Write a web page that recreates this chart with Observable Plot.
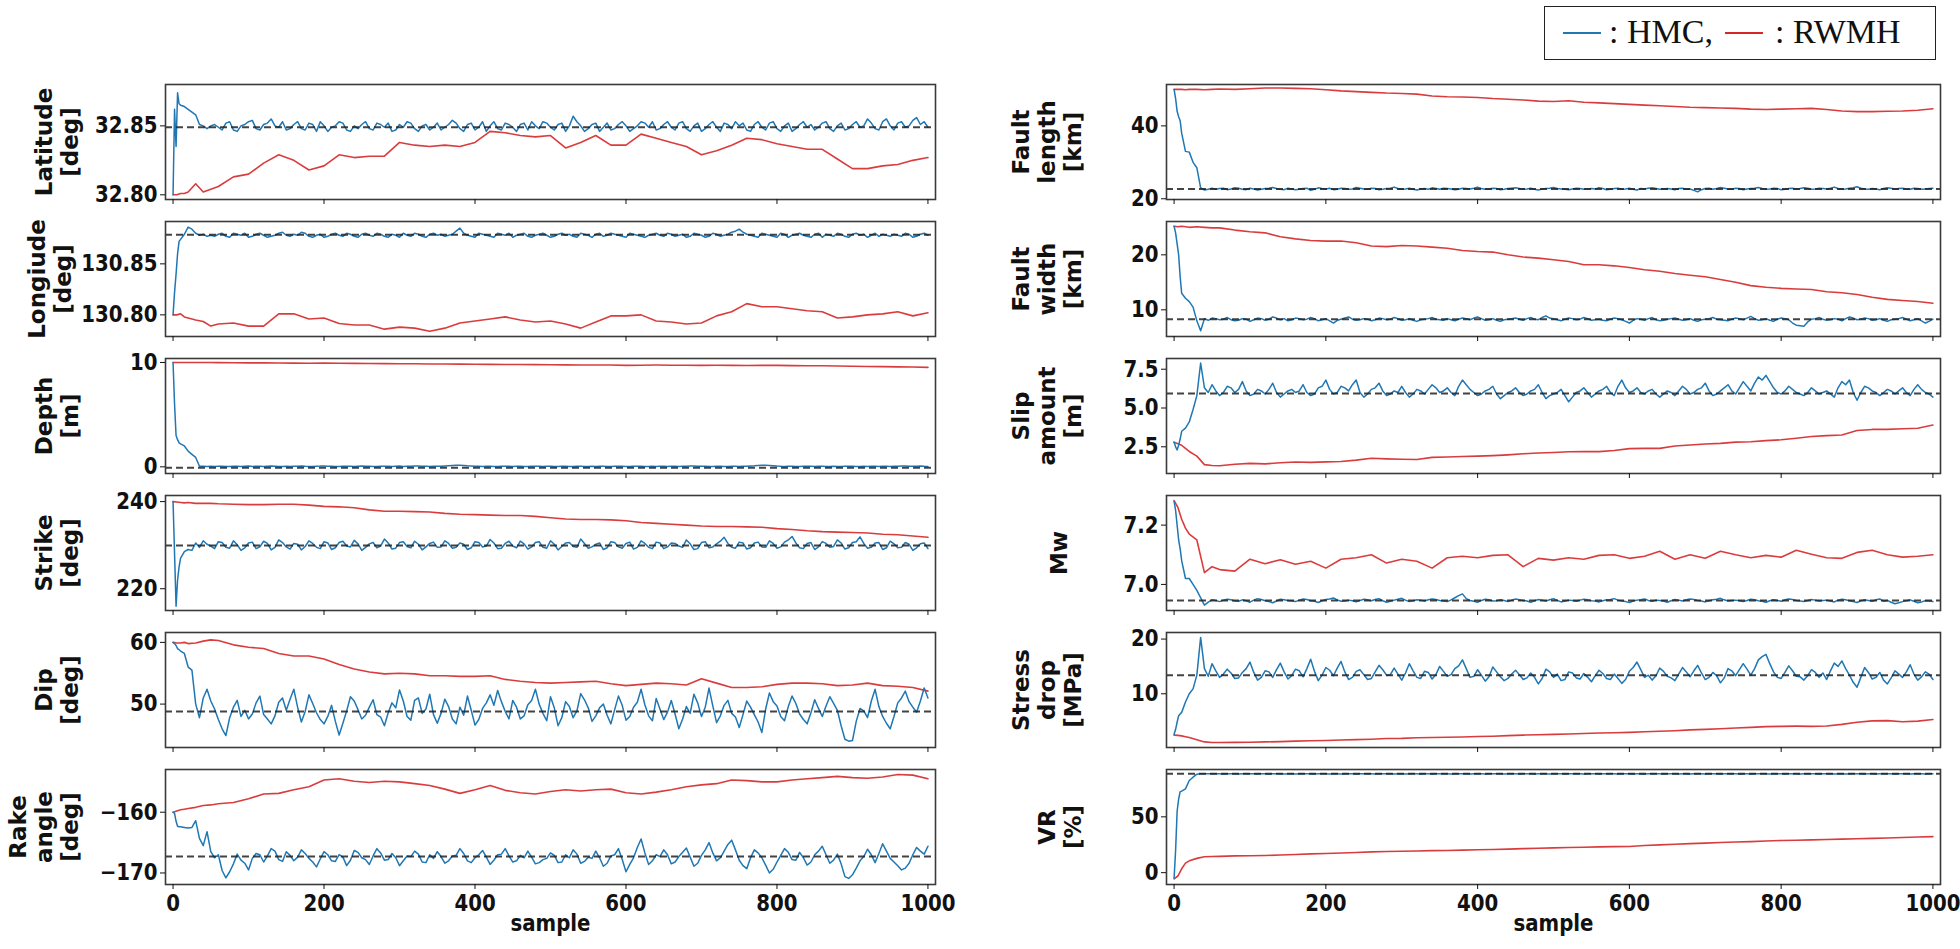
<!DOCTYPE html>
<html>
<head>
<meta charset="utf-8">
<script src="https://cdn.jsdelivr.net/npm/d3@7"></script>
<script src="https://cdn.jsdelivr.net/npm/@observablehq/plot@0.6"></script>
<style>
  html, body { margin: 0; padding: 0; background: #fff; }
  #root { position: relative; width: 1960px; height: 949px; background: #fff; overflow: hidden; }
  .panel { position: absolute; }
  #legend { position: absolute; left: 1544px; top: 6px; width: 392px; height: 54px; border: 1.6px solid #222; box-sizing: border-box; font-family: "Liberation Serif", "Times New Roman", serif; font-size: 34px; color: #111; }
  #legend .ln { position: absolute; top: 25px; height: 2px; width: 38px; }
  #legend .tx { position: absolute; top: 5px; white-space: nowrap; line-height: 40px; }
</style>
</head>
<body>
<div id="root">
  <div id="legend">
    <div class="ln" style="left:18px;background:#1f77b4"></div>
    <div class="tx" style="left:64px">: HMC,</div>
    <div class="ln" style="left:180px;background:#d62728"></div>
    <div class="tx" style="left:230px">: RWMH</div>
  </div>
</div>
<script>
// ---------------- sample indices ----------------
const sampleHMC = [0,2,4,6,8,10,15,20,25,30,35,40,45,50].concat(d3.range(55, 1001, 5));
const sampleRWMH = [0,5,10,15,20,30,40,50,60].concat(d3.range(80, 1001, 20));
const xTicks = [0, 200, 400, 600, 800, 1000];

// ---------------- Latitude ----------------
const latitudeHMC = [
  32.800,32.862,32.835,32.874,32.866,32.865,32.864,32.862,32.860,32.858,32.851,32.850,32.848,32.850,
  32.851,32.849,32.847,32.852,32.853,32.847,32.846,32.850,32.851,32.853,32.854,32.848,32.847,32.851,32.852,32.855,32.850,32.849,32.853,32.847,
  32.848,32.851,32.853,32.848,32.847,32.852,32.851,32.846,32.853,32.850,32.846,32.849,32.850,32.853,32.852,32.847,32.846,32.850,32.848,32.851,
  32.853,32.848,32.847,32.852,32.851,32.849,32.852,32.846,32.847,32.851,32.849,32.853,32.852,32.848,32.846,32.850,32.851,32.847,32.849,32.852,
  32.847,32.849,32.851,32.854,32.852,32.848,32.846,32.851,32.852,32.847,32.849,32.853,32.846,32.850,32.853,32.848,32.847,32.852,32.851,32.849,
  32.846,32.851,32.852,32.847,32.853,32.850,32.848,32.853,32.852,32.849,32.847,32.851,32.852,32.846,32.850,32.857,32.853,32.850,32.846,32.848,
  32.851,32.852,32.846,32.849,32.852,32.847,32.848,32.851,32.853,32.850,32.846,32.848,32.850,32.853,32.852,32.849,32.853,32.847,32.848,32.851,
  32.853,32.849,32.847,32.852,32.853,32.848,32.846,32.850,32.852,32.846,32.848,32.851,32.853,32.849,32.846,32.852,32.851,32.848,32.853,32.850,
  32.852,32.847,32.846,32.851,32.853,32.849,32.847,32.852,32.853,32.848,32.846,32.850,32.852,32.846,32.848,32.851,32.853,32.849,32.851,32.847,
  32.849,32.852,32.853,32.848,32.846,32.850,32.852,32.847,32.848,32.851,32.853,32.849,32.850,32.855,32.852,32.848,32.847,32.853,32.855,32.850,
  32.847,32.852,32.853,32.849,32.850,32.854,32.856,32.851,32.853,32.849];
const latitudeRWMH = [
  32.800,32.800,32.801,32.801,32.802,32.808,32.802,32.804,32.806,
  32.813,32.815,32.823,32.829,32.825,32.818,32.821,32.829,32.827,32.828,
  32.828,32.838,32.836,32.835,32.836,32.835,32.838,32.846,32.845,32.843,
  32.842,32.843,32.834,32.838,32.843,32.836,32.836,32.844,32.841,32.838,
  32.835,32.829,32.832,32.836,32.841,32.840,32.837,32.835,32.833,32.833,
  32.826,32.819,32.819,32.821,32.822,32.825,32.827];
const latitudeTrue = 32.849;

// ---------------- Longitude ----------------
const longitudeHMC = [
  130.800,130.822,130.840,130.860,130.872,130.874,130.879,130.886,130.884,130.880,130.878,130.879,130.877,130.878,
  130.877,130.879,130.880,130.877,130.876,130.880,130.879,130.878,130.880,130.876,130.877,130.879,130.880,130.878,130.876,130.877,130.878,130.880,130.881,130.878,
  130.877,130.879,130.878,130.881,130.880,130.877,130.876,130.878,130.879,130.876,130.877,130.879,130.880,130.878,130.877,130.880,130.879,130.877,130.876,130.879,
  130.880,130.878,130.877,130.880,130.879,130.877,130.876,130.879,130.878,130.876,130.880,130.878,130.877,130.880,130.879,130.877,130.876,130.879,130.880,130.878,
  130.879,130.877,130.878,130.879,130.882,130.885,130.880,130.878,130.877,130.876,130.880,130.879,130.878,130.877,130.876,130.880,130.879,130.878,130.880,130.876,
  130.878,130.879,130.880,130.877,130.876,130.878,130.879,130.880,130.878,130.876,130.877,130.879,130.880,130.878,130.879,130.877,130.876,130.880,130.879,130.878,
  130.876,130.879,130.880,130.877,130.878,130.880,130.879,130.878,130.877,130.876,130.880,130.879,130.878,130.877,130.876,130.878,130.879,130.880,130.878,130.877,
  130.880,130.879,130.877,130.878,130.879,130.876,130.877,130.880,130.879,130.878,130.876,130.877,130.880,130.879,130.877,130.878,130.879,130.881,130.882,130.884,
  130.881,130.879,130.878,130.877,130.876,130.880,130.879,130.878,130.877,130.876,130.880,130.879,130.876,130.878,130.879,130.880,130.878,130.877,130.876,130.879,
  130.880,130.876,130.879,130.878,130.877,130.880,130.879,130.877,130.876,130.879,130.880,130.878,130.879,130.876,130.878,130.880,130.877,130.879,130.878,130.877,
  130.879,130.878,130.877,130.880,130.879,130.876,130.877,130.879,130.880,130.878];
const longitudeRWMH = [
  130.800,130.800,130.801,130.798,130.797,130.795,130.7935,130.789,130.791,
  130.792,130.789,130.789,130.801,130.801,130.796,130.797,130.7915,130.790,130.790,
  130.786,130.788,130.787,130.784,130.787,130.792,130.794,130.796,130.798,130.795,
  130.793,130.794,130.791,130.787,130.793,130.799,130.799,130.800,130.794,130.793,
  130.791,130.792,130.799,130.803,130.811,130.808,130.808,130.806,130.804,130.803,
  130.797,130.798,130.800,130.801,130.803,130.799,130.802];
const longitudeTrue = 130.8784;

// ---------------- Depth ----------------
const depthHMC = [
  10.0,6.0,3.0,2.6,2.3,2.2,2.0,1.5,1.2,0.9,0.05,0.05,0.02,0.05,
  0.04,0.05,0.06,0.03,0.04,0.06,0.05,0.04,0.06,0.08,0.04,0.05,0.06,0.03,0.05,0.07,0.06,0.04,0.03,0.06,
  0.04,0.05,0.06,0.08,0.05,0.04,0.03,0.06,0.07,0.09,0.06,0.05,0.04,0.03,0.05,0.06,0.05,0.04,0.06,0.07,
  0.06,0.05,0.04,0.03,0.05,0.06,0.05,0.04,0.06,0.07,0.04,0.05,0.06,0.08,0.07,0.06,0.05,0.04,0.06,0.05,
  0.06,0.08,0.10,0.12,0.14,0.15,0.13,0.10,0.08,0.06,0.05,0.04,0.06,0.05,0.04,0.03,0.05,0.06,0.05,0.04,
  0.06,0.05,0.04,0.03,0.05,0.06,0.05,0.04,0.06,0.05,0.04,0.03,0.05,0.06,0.03,0.04,0.06,0.05,0.04,0.03,
  0.05,0.04,0.05,0.06,0.04,0.03,0.06,0.05,0.05,0.04,0.04,0.06,0.06,0.05,0.04,0.03,0.05,0.04,0.05,0.06,
  0.04,0.05,0.06,0.04,0.05,0.06,0.07,0.08,0.06,0.05,0.05,0.04,0.04,0.06,0.05,0.03,0.04,0.05,0.06,0.04,
  0.05,0.06,0.08,0.10,0.13,0.15,0.14,0.13,0.10,0.07,0.05,0.04,0.06,0.05,0.04,0.03,0.05,0.06,0.05,0.04,
  0.06,0.05,0.04,0.03,0.05,0.04,0.04,0.06,0.06,0.05,0.04,0.03,0.05,0.04,0.05,0.06,0.04,0.05,0.06,0.04,
  0.05,0.06,0.07,0.08,0.06,0.05,0.06,0.07,0.05,0.04];
const depthRWMH = [
  10.0,10.0,10.0,10.0,10.0,10.0,9.99,9.99,9.98,
  9.97,9.96,9.96,9.95,9.94,9.93,9.94,9.92,9.91,9.90,
  9.89,9.88,9.87,9.86,9.86,9.84,9.83,9.82,9.81,9.80,
  9.79,9.78,9.77,9.76,9.76,9.75,9.72,9.74,9.75,9.74,
  9.73,9.72,9.73,9.72,9.71,9.72,9.72,9.70,9.69,9.68,
  9.66,9.64,9.62,9.60,9.58,9.56,9.53];
const depthTrue = -0.1;

// ---------------- Strike ----------------
const strikeHMC = [
  240.0,228.0,216.0,222.0,225.0,227.0,228.5,229.0,228.8,230.5,229.5,231.0,230.2,229.8,
  229.2,230.8,230.6,229.5,229.3,231.0,230.1,228.8,229.4,230.5,230.7,229.2,229.6,230.9,230.4,228.9,229.5,231.2,230.6,229.6,
  229.1,230.4,230.2,228.9,229.7,231.0,230.4,229.5,229.2,230.8,230.5,229.0,229.4,230.6,230.9,229.8,229.6,231.1,230.3,228.8,
  229.5,230.3,230.6,229.4,229.8,231.4,230.5,229.1,229.3,230.6,230.8,229.7,229.4,230.9,230.2,228.9,229.6,230.4,230.7,229.5,
  229.6,231.0,230.4,229.3,229.5,230.5,230.2,229.0,229.4,230.8,230.6,229.6,229.8,231.3,230.5,229.2,229.3,230.4,230.9,229.8,
  229.4,230.9,230.3,229.1,229.6,230.6,230.8,229.5,229.3,231.0,230.2,228.9,229.7,230.5,230.6,229.7,229.5,231.4,230.4,229.3,
  229.6,230.2,230.5,229.0,229.4,230.8,230.6,229.6,229.3,230.4,230.7,229.1,229.5,231.0,230.4,229.5,229.2,230.7,230.5,229.2,
  229.6,230.5,230.4,229.8,229.5,231.2,230.3,229.0,229.2,230.6,230.8,229.4,229.6,230.3,230.9,231.8,230.4,229.5,229.3,230.7,
  230.5,229.1,229.4,230.5,230.7,229.6,229.5,231.0,230.4,229.3,229.6,230.7,231.2,232.0,230.5,229.4,229.2,230.4,230.6,229.0,
  229.6,230.8,230.4,229.5,229.7,231.2,230.5,229.1,229.4,230.6,230.8,231.9,230.4,229.3,229.5,230.5,230.6,229.0,229.4,230.9,
  230.3,229.4,229.5,230.6,230.2,228.8,229.4,230.3,230.5,229.2];
const strikeRWMH = [
  240.0,239.9,239.8,239.7,239.8,239.6,239.6,239.6,239.5,
  239.4,239.3,239.3,239.4,239.4,239.2,238.9,238.8,238.6,238.1,
  237.8,237.8,237.7,237.6,237.3,237.1,237.0,236.9,236.8,236.8,
  236.6,236.3,236.0,235.9,235.9,235.8,235.6,235.2,235.0,234.8,
  234.6,234.4,234.3,234.3,234.2,234.1,233.8,233.6,233.3,233.1,
  233.0,232.9,232.8,232.5,232.4,232.1,231.8];
const strikeTrue = 229.9;

// ---------------- Dip ----------------
const dipHMC = [
  60.0,59.8,59.5,59.0,58.8,58.6,58.2,56.0,55.5,50.0,47.8,51.0,52.4,50.5,
  49.2,47.5,46.0,44.9,47.8,49.5,50.6,48.0,49.0,47.6,48.4,50.2,51.3,48.3,47.6,46.8,48.1,50.3,51.0,49.0,
  50.8,52.4,49.5,47.1,48.8,51.5,50.1,48.6,47.5,46.8,48.0,49.8,47.2,45.0,46.9,48.9,51.2,50.5,49.1,47.6,
  48.2,49.5,50.7,48.3,47.9,46.5,48.6,50.2,49.4,52.3,50.5,48.0,47.4,50.6,51.0,48.5,49.2,51.6,48.3,46.9,
  48.5,50.8,49.6,47.6,46.8,49.5,48.2,51.3,49.0,46.6,47.5,49.3,50.2,51.5,49.8,52.2,50.4,48.8,47.6,50.6,
  49.5,47.6,48.1,49.9,50.6,52.4,50.0,48.5,47.3,51.2,49.4,46.5,47.8,50.4,49.6,47.8,48.9,51.7,50.7,49.4,
  47.2,48.1,49.4,50.0,48.2,46.8,49.1,51.3,49.8,47.4,48.0,49.5,50.3,52.4,49.9,48.1,47.3,50.9,49.2,47.5,
  48.7,50.6,48.4,46.0,47.6,49.6,48.5,51.6,50.2,48.0,49.5,52.6,49.7,47.0,48.1,49.8,50.6,48.5,47.9,46.2,
  48.3,50.5,49.5,48.3,47.1,45.4,49.2,51.8,50.4,49.7,48.0,47.3,49.6,51.3,50.1,48.4,47.5,46.8,48.6,50.7,
  49.3,48.0,49.7,51.2,50.1,49.0,46.5,44.3,44.0,44.1,47.2,49.3,48.9,47.8,50.5,52.4,49.6,48.0,46.9,46.0,
  48.0,50.2,51.0,52.1,50.4,49.5,48.7,50.5,52.6,51.0];
const dipRWMH = [
  60.0,59.9,59.9,60.0,59.8,59.9,60.2,60.4,60.3,
  59.6,59.2,59.0,58.2,57.8,57.8,57.3,56.4,55.7,55.2,
  54.9,55.0,54.9,54.6,54.6,54.5,54.5,54.6,54.0,53.7,
  53.5,53.4,53.5,53.6,53.7,53.3,53.0,53.2,53.4,53.3,
  53.1,54.1,53.4,52.7,52.7,52.8,53.2,53.4,53.4,53.3,
  53.0,53.1,53.4,53.0,52.9,52.7,52.1];
const dipTrue = 48.8;

// ---------------- Rake angle ----------------
const rakeHMC = [
  -160.0,-160.2,-161.5,-162.3,-162.4,-162.4,-162.5,-162.6,-162.5,-161.4,-164.3,-165.5,-163.2,-166.5,
  -167.5,-167.0,-169.6,-170.8,-169.8,-168.5,-166.9,-167.9,-168.4,-169.5,-167.6,-166.8,-167.0,-168.2,-167.2,-166.0,-166.4,-167.8,-168.1,-166.5,
  -167.1,-168.0,-167.4,-166.2,-166.8,-167.6,-168.2,-169.0,-167.7,-166.5,-167.0,-168.0,-168.1,-167.0,-167.4,-168.8,-167.9,-166.3,-166.6,-167.5,
  -167.8,-168.6,-167.2,-166.0,-166.7,-167.9,-167.8,-166.8,-167.5,-168.8,-168.0,-167.2,-167.3,-166.4,-166.9,-168.2,-168.3,-167.0,-167.6,-166.5,
  -167.3,-168.4,-168.0,-167.2,-167.1,-166.0,-166.8,-168.0,-168.3,-167.5,-167.0,-166.3,-167.4,-168.6,-167.9,-167.0,-166.9,-166.0,-167.2,-168.2,
  -168.0,-167.1,-167.5,-166.4,-167.4,-168.5,-168.3,-167.8,-167.6,-166.7,-167.1,-168.3,-168.2,-167.0,-167.5,-166.2,-166.9,-168.4,-168.1,-167.4,
  -167.6,-166.4,-167.5,-168.9,-168.4,-167.2,-167.0,-166.0,-167.8,-169.8,-168.6,-167.5,-165.8,-164.4,-166.7,-168.6,-168.0,-167.0,-167.3,-166.2,
  -167.0,-168.5,-168.2,-167.3,-166.6,-165.9,-167.4,-168.9,-168.4,-167.1,-166.2,-165.0,-166.7,-168.0,-167.5,-166.4,-165.3,-164.6,-166.2,-167.9,
  -168.8,-169.3,-167.5,-166.2,-166.7,-167.5,-168.7,-170.0,-169.4,-168.2,-167.1,-166.0,-166.6,-167.8,-167.9,-166.6,-167.5,-168.7,-168.2,-167.0,
  -166.4,-165.6,-167.0,-168.4,-167.9,-166.9,-168.5,-170.6,-170.9,-170.3,-169.2,-168.0,-167.3,-166.1,-167.0,-168.3,-166.8,-165.2,-166.4,-167.6,
  -168.2,-168.8,-169.5,-169.2,-168.4,-167.0,-165.8,-166.4,-166.9,-165.6];
const rakeRWMH = [
  -160.0,-159.8,-159.6,-159.5,-159.4,-159.2,-158.9,-158.8,-158.6,
  -158.4,-157.8,-157.0,-156.9,-156.3,-155.8,-154.7,-154.5,-154.9,-155.1,
  -154.9,-155.0,-155.3,-155.6,-156.2,-156.9,-156.3,-155.6,-156.4,-156.8,
  -157.0,-156.6,-156.3,-156.5,-156.3,-156.2,-156.8,-157.0,-156.7,-156.3,
  -155.8,-155.5,-155.3,-154.7,-154.8,-155.0,-155.0,-154.7,-154.5,-154.3,
  -154.1,-154.3,-154.4,-154.2,-153.8,-153.9,-154.5];
const rakeTrue = -167.3;

// ---------------- Fault length ----------------
const lengthHMC = [
  50.0,47.5,44.0,42.5,41.4,38.0,33.0,32.8,30.0,28.5,23.0,22.4,22.6,22.9,
  22.6,22.8,22.9,22.5,22.7,23.0,22.9,22.6,22.5,22.9,22.7,22.4,22.6,22.8,22.9,23.1,22.8,22.6,22.5,22.9,
  22.7,22.5,22.6,22.8,22.9,22.3,22.6,23.0,22.8,22.7,22.9,22.5,22.6,22.9,22.8,22.6,22.7,23.1,22.9,22.7,
  22.6,22.9,22.8,22.5,22.6,22.8,22.9,23.2,22.8,22.6,22.7,22.9,22.6,22.4,22.7,22.8,22.6,23.0,22.8,22.6,
  22.9,22.8,22.7,22.5,22.6,22.9,22.8,22.7,22.9,23.2,22.8,22.6,22.7,22.9,22.8,22.5,22.6,22.8,22.9,23.0,
  22.8,22.6,22.7,22.9,22.6,22.4,22.7,22.8,22.9,23.1,22.8,22.7,22.6,22.5,22.7,22.9,22.8,22.6,22.7,22.8,
  22.7,23.0,22.8,22.5,22.6,22.8,22.9,22.6,22.7,22.9,22.6,22.4,22.8,22.7,22.9,23.0,22.8,22.6,22.7,22.8,
  22.7,22.5,22.8,22.9,22.6,22.7,22.3,21.9,22.5,22.8,22.9,22.6,22.8,23.1,22.9,22.7,22.6,22.9,22.8,22.5,
  22.7,22.8,22.9,23.1,22.8,22.6,22.7,22.9,22.8,22.5,22.6,22.8,22.9,22.7,22.8,23.0,22.9,22.6,22.7,22.9,
  22.8,22.7,22.9,23.2,22.8,22.6,22.7,22.9,23.0,23.3,22.9,22.7,22.6,22.8,22.7,22.5,22.8,23.0,22.9,22.7,
  22.8,22.9,22.7,22.6,22.9,22.8,22.6,22.7,22.8,22.9];
const lengthRWMH = [
  50.0,50.0,50.0,49.9,50.0,50.0,49.9,50.0,50.1,
  50.0,50.2,50.4,50.4,50.3,50.2,49.9,49.6,49.4,49.2,
  49.0,48.9,48.7,48.2,48.0,47.9,47.8,47.5,47.3,47.1,
  46.8,46.7,46.9,46.5,46.3,46.1,45.9,45.7,45.5,45.3,
  45.1,45.0,44.9,44.8,44.6,44.5,44.6,44.7,44.8,44.5,
  44.1,43.9,43.9,44.0,44.1,44.3,44.7];
const lengthTrue = 22.7;

// ---------------- Fault width ----------------
const widthHMC = [
  25.2,24.0,22.0,20.0,16.0,13.0,12.1,11.5,10.5,8.0,6.2,8.4,8.1,8.5,
  8.4,8.2,8.3,8.6,8.2,8.0,8.1,8.4,8.3,7.9,8.2,8.5,8.4,8.1,8.3,8.7,8.5,8.2,8.4,8.0,
  8.2,8.5,8.4,8.2,8.3,8.6,8.4,8.0,8.2,8.4,8.0,7.6,8.1,8.3,8.5,8.7,8.3,8.1,8.2,8.4,
  8.3,8.0,8.2,8.5,8.4,8.2,8.3,8.6,8.4,8.1,8.2,8.4,8.1,7.9,8.2,8.3,8.4,8.6,8.3,8.2,
  8.1,8.4,8.2,8.0,8.3,8.5,8.4,8.2,8.5,8.7,8.4,8.1,8.2,8.4,8.1,7.9,8.2,8.3,8.4,8.5,
  8.3,8.1,8.4,8.6,8.3,8.2,8.6,8.9,8.5,8.4,8.2,8.0,8.3,8.5,8.4,8.2,8.3,8.6,8.4,8.1,
  8.2,8.3,8.1,8.0,8.3,8.5,8.4,8.2,7.9,7.6,8.1,8.4,8.3,8.1,8.4,8.6,8.2,8.0,8.1,8.3,
  8.4,8.5,8.3,8.1,8.2,8.4,8.1,7.9,8.2,8.3,8.4,8.6,8.3,8.2,8.1,8.0,8.3,8.5,8.4,8.2,
  8.5,8.8,8.4,8.1,8.2,8.4,8.1,7.9,8.3,8.5,8.4,8.2,7.6,7.2,7.1,7.0,7.8,8.3,8.4,8.6,
  8.3,8.1,8.2,8.4,8.3,8.0,8.4,8.7,8.5,8.2,8.3,8.5,8.4,8.1,8.2,8.4,8.1,7.9,8.2,8.3,
  8.4,8.6,8.3,8.0,8.2,8.4,8.0,7.6,7.9,8.3];
const widthRWMH = [
  25.2,25.1,25.2,25.1,25.0,25.1,25.0,24.9,24.9,
  24.5,24.2,24.0,23.3,22.9,22.6,22.5,22.5,22.2,21.6,
  21.5,21.7,21.6,21.4,21.2,20.8,20.6,20.5,20.0,19.6,
  19.4,19.1,18.8,18.2,18.2,18.0,17.7,17.3,17.0,16.6,
  16.3,16.0,15.5,15.0,14.4,14.1,13.9,13.8,13.7,13.3,
  13.1,12.8,12.3,11.9,11.7,11.5,11.2];
const widthTrue = 8.3;

// ---------------- Slip amount ----------------
const slipHMC = [
  2.8,2.5,2.3,2.6,3.0,3.5,3.7,4.1,4.9,5.8,7.9,6.3,6.0,6.5,
  6.1,5.8,6.0,6.4,6.3,6.0,6.2,6.7,6.1,5.8,5.9,6.2,6.1,5.9,6.2,6.6,6.0,5.7,5.9,6.1,
  6.2,6.0,6.1,6.5,6.0,5.8,5.9,6.3,6.4,6.8,6.2,5.9,6.0,6.4,6.3,6.1,6.5,6.8,6.0,5.7,
  5.9,6.2,6.3,6.6,6.1,5.8,5.9,6.1,6.0,6.4,6.0,5.7,5.9,6.2,6.1,5.9,6.2,6.5,6.3,6.0,
  6.1,6.3,6.0,5.8,6.4,6.8,6.5,6.2,6.0,5.8,5.9,6.1,6.2,6.4,5.9,5.6,5.8,6.0,6.1,6.3,
  6.0,5.8,5.9,6.1,6.2,6.5,6.0,5.6,5.8,5.9,6.0,6.2,5.8,5.4,5.7,6.0,6.1,6.3,6.0,5.7,
  5.9,6.1,6.2,6.4,6.0,5.8,6.4,6.8,6.3,6.0,6.1,6.3,6.0,5.9,6.1,6.2,5.9,5.7,5.9,6.1,
  6.0,5.8,6.1,6.4,6.2,5.9,6.0,6.2,6.3,6.6,6.1,5.8,5.9,6.1,6.3,6.5,6.1,5.9,6.3,6.7,
  6.4,6.1,6.6,7.0,6.8,7.1,6.7,6.3,6.0,5.9,6.1,6.4,6.2,6.0,5.9,5.8,6.0,6.3,6.1,5.9,
  6.0,6.1,5.9,5.7,6.3,6.7,6.5,6.8,6.0,5.5,6.0,6.4,6.3,6.1,6.0,5.8,6.0,6.2,6.1,5.9,
  6.1,6.3,6.0,5.8,6.2,6.5,6.2,6.0,5.9,5.7];
const slipRWMH = [
  2.8,2.7,2.6,2.4,2.2,1.9,1.35,1.3,1.28,
  1.38,1.43,1.40,1.47,1.52,1.50,1.53,1.55,1.64,1.76,
  1.72,1.70,1.68,1.82,1.84,1.88,1.90,1.93,1.98,2.05,
  2.10,2.13,2.18,2.20,2.19,2.26,2.38,2.40,2.40,2.55,
  2.62,2.68,2.72,2.80,2.83,2.90,2.95,3.05,3.16,3.22,
  3.26,3.55,3.62,3.62,3.66,3.70,3.90];
const slipTrue = 5.93;

// ---------------- Mw ----------------
const mwHMC = [
  7.28,7.25,7.20,7.15,7.12,7.08,7.02,7.02,7.00,6.98,6.955,6.93,6.94,6.948,
  6.946,6.942,6.947,6.950,6.948,6.944,6.943,6.948,6.945,6.940,6.947,6.952,6.949,6.945,6.942,6.938,6.944,6.950,6.948,6.946,
  6.944,6.942,6.947,6.951,6.949,6.945,6.943,6.939,6.945,6.949,6.951,6.954,6.948,6.943,6.944,6.947,6.945,6.941,6.946,6.950,
  6.948,6.945,6.949,6.952,6.945,6.940,6.943,6.947,6.950,6.953,6.947,6.942,6.945,6.948,6.947,6.944,6.948,6.951,6.949,6.946,
  6.944,6.942,6.948,6.955,6.962,6.968,6.952,6.946,6.943,6.940,6.946,6.950,6.948,6.944,6.945,6.948,6.946,6.942,6.947,6.951,
  6.948,6.946,6.944,6.940,6.945,6.949,6.947,6.944,6.948,6.952,6.946,6.941,6.944,6.947,6.946,6.943,6.947,6.950,6.948,6.945,
  6.944,6.941,6.945,6.948,6.949,6.952,6.947,6.944,6.942,6.939,6.944,6.947,6.948,6.951,6.946,6.943,6.947,6.946,6.944,6.940,
  6.945,6.949,6.947,6.944,6.948,6.951,6.949,6.946,6.944,6.941,6.945,6.948,6.950,6.953,6.948,6.944,6.946,6.947,6.945,6.942,
  6.946,6.950,6.948,6.945,6.943,6.940,6.945,6.948,6.946,6.943,6.948,6.951,6.949,6.946,6.944,6.942,6.946,6.949,6.947,6.944,
  6.946,6.947,6.944,6.941,6.947,6.950,6.948,6.945,6.942,6.939,6.945,6.948,6.946,6.943,6.948,6.951,6.943,6.946,6.940,6.935,
  6.938,6.942,6.945,6.948,6.943,6.938,6.941,6.945,6.944,6.942];
const mwRWMH = [
  7.283,7.26,7.22,7.19,7.17,7.15,7.04,7.06,7.05,
  7.045,7.085,7.07,7.083,7.068,7.078,7.055,7.085,7.09,7.10,
  7.072,7.085,7.078,7.055,7.09,7.095,7.09,7.098,7.10,7.06,
  7.088,7.082,7.09,7.085,7.098,7.10,7.088,7.095,7.112,7.085,
  7.10,7.088,7.112,7.10,7.09,7.098,7.092,7.115,7.102,7.09,
  7.088,7.108,7.115,7.10,7.092,7.095,7.10];
const mwTrue = 6.946;

// ---------------- Stress drop ----------------
const stressHMC = [
  2.6,3.5,4.8,6.0,6.3,6.6,8.5,10.0,10.9,13.4,20.3,14.6,13.2,15.5,
  14.2,13.0,13.6,14.5,13.8,12.8,12.9,13.9,14.6,15.8,13.9,12.5,13.0,14.2,14.0,13.0,14.4,15.6,14.0,12.7,
  13.3,14.5,14.2,13.1,14.6,16.3,14.1,12.4,13.4,14.8,14.3,13.3,14.7,15.9,14.0,12.6,13.0,14.1,14.4,13.5,
  12.6,12.8,14.0,15.2,14.4,13.4,13.5,14.7,13.6,12.5,13.8,15.5,14.2,13.0,12.8,14.1,13.9,12.7,13.5,15.0,
  14.1,13.2,13.5,14.6,15.1,16.2,14.6,13.0,13.2,14.4,13.4,12.3,13.1,14.9,14.0,13.1,12.4,12.8,13.6,14.3,
  13.5,12.6,12.9,13.8,13.0,11.8,12.8,14.5,14.0,13.0,13.6,12.4,12.6,14.0,13.8,12.9,12.7,13.7,13.0,12.2,
  13.3,14.3,13.7,12.8,12.6,13.6,12.8,11.9,12.6,14.1,14.8,15.8,14.4,13.0,13.4,12.5,13.3,14.7,14.1,13.2,
  12.9,12.4,13.6,14.8,14.0,13.1,14.2,15.2,13.8,12.6,13.0,13.9,13.3,12.0,12.9,14.6,14.2,13.3,14.4,15.5,
  14.5,13.4,14.6,16.2,16.8,17.2,15.5,14.0,13.0,12.8,13.9,15.1,14.2,13.2,13.1,12.5,13.3,14.4,13.9,13.0,
  13.8,12.6,14.2,15.6,15.0,16.0,14.6,13.4,12.1,11.2,13.0,14.8,13.9,12.7,13.0,13.9,12.5,11.8,12.9,14.2,
  13.6,13.0,14.0,15.3,13.6,12.5,13.1,14.0,13.6,12.6];
const stressRWMH = [
  2.45,2.40,2.30,2.15,2.0,1.6,1.2,1.1,1.1,
  1.12,1.15,1.20,1.25,1.35,1.40,1.45,1.55,1.62,1.70,
  1.82,1.85,1.95,2.00,2.05,2.10,2.20,2.25,2.35,2.45,
  2.50,2.58,2.65,2.75,2.82,2.88,2.95,3.05,3.15,3.25,
  3.40,3.50,3.60,3.75,3.85,4.00,4.05,4.08,4.05,4.10,
  4.40,4.80,5.05,5.10,4.90,5.00,5.30];
const stressTrue = 13.37;

// ---------------- VR ----------------
const vrHMC = [
  -5.0,20.0,55.0,66.0,72.5,73.0,75.0,82.5,85.5,88.2,88.5,88.6,88.5,88.6,
  88.5,88.6,88.4,88.5,88.6,88.5,88.4,88.5,88.6,88.5,88.5,88.4,88.6,88.5,88.4,88.6,88.5,88.5,88.4,88.6,
  88.5,88.4,88.6,88.5,88.5,88.6,88.4,88.5,88.6,88.5,88.4,88.5,88.6,88.4,88.5,88.6,88.5,88.4,88.5,88.6,
  88.6,88.5,88.4,88.5,88.6,88.5,88.5,88.4,88.6,88.5,88.4,88.6,88.5,88.5,88.4,88.6,88.5,88.4,88.5,88.6,
  88.5,88.6,88.4,88.5,88.5,88.6,88.5,88.4,88.6,88.5,88.5,88.4,88.6,88.5,88.6,88.5,88.4,88.5,88.6,88.5,
  88.4,88.5,88.6,88.5,88.4,88.6,88.5,88.5,88.4,88.6,88.5,88.6,88.4,88.5,88.5,88.6,88.5,88.4,88.6,88.5,
  88.5,88.4,88.6,88.5,88.6,88.5,88.4,88.5,88.6,88.5,88.4,88.5,88.6,88.4,88.5,88.6,88.5,88.5,88.4,88.6,
  88.6,88.5,88.4,88.5,88.6,88.4,88.5,88.6,88.5,88.4,88.5,88.6,88.5,88.4,88.5,88.6,88.5,88.5,88.4,88.6,
  88.5,88.4,88.6,88.5,88.5,88.6,88.4,88.5,88.6,88.5,88.4,88.5,88.6,88.5,88.4,88.6,88.5,88.5,88.6,88.4,
  88.5,88.6,88.5,88.4,88.5,88.6,88.4,88.5,88.6,88.5,88.5,88.4,88.6,88.5,88.4,88.6,88.5,88.5,88.6,88.4,
  88.5,88.6,88.5,88.4,88.5,88.6,88.5,88.4,88.6,88.5];
const vrRWMH = [
  -5.5,-3.0,3.5,8.5,10.6,12.8,14.3,14.5,14.6,
  15.0,15.1,15.4,15.8,16.3,16.8,17.2,17.6,18.0,18.6,
  19.0,19.2,19.4,19.7,19.9,20.2,20.5,20.8,21.1,21.5,
  21.9,22.2,22.5,22.8,23.1,23.3,23.5,24.3,24.9,25.5,
  26.0,26.5,27.0,27.4,27.8,28.3,28.8,29.1,29.4,29.7,
  30.0,30.4,30.7,31.1,31.5,31.9,32.3];
const vrTrue = 88.5;

// ---------------- panel definitions ----------------
const panels = [
  {col:0,row:0,label:"Latitude\n[deg]",hmc:latitudeHMC,rwmh:latitudeRWMH,ref:latitudeTrue,domain:[32.7966,32.880],ticks:[32.80,32.85],fmt:".2f"},
  {col:0,row:1,label:"Longiude\n[deg]",hmc:longitudeHMC,rwmh:longitudeRWMH,ref:longitudeTrue,domain:[130.7788,130.8915],ticks:[130.80,130.85],fmt:".2f",shift:-7},
  {col:0,row:2,label:"Depth\n[m]",hmc:depthHMC,rwmh:depthRWMH,ref:depthTrue,domain:[-0.64,10.38],ticks:[0,10],fmt:"d"},
  {col:0,row:3,label:"Strike\n[deg]",hmc:strikeHMC,rwmh:strikeRWMH,ref:strikeTrue,domain:[215.0,241.4],ticks:[220,240],fmt:"d"},
  {col:0,row:4,label:"Dip\n[deg]",hmc:dipHMC,rwmh:dipRWMH,ref:dipTrue,domain:[42.97,61.6],ticks:[50,60],fmt:"d"},
  {col:0,row:5,label:"Rake\nangle\n[deg]",hmc:rakeHMC,rwmh:rakeRWMH,ref:rakeTrue,domain:[-171.9,-152.97],ticks:[-170,-160],fmt:"d"},
  {col:1,row:0,label:"Fault\nlength\n[km]",hmc:lengthHMC,rwmh:lengthRWMH,ref:lengthTrue,domain:[19.8,51.35],ticks:[20,40],fmt:"d"},
  {col:1,row:1,label:"Fault\nwidth\n[km]",hmc:widthHMC,rwmh:widthRWMH,ref:widthTrue,domain:[5.15,26.06],ticks:[10,20],fmt:"d"},
  {col:1,row:2,label:"Slip\namount\n[m]",hmc:slipHMC,rwmh:slipRWMH,ref:slipTrue,domain:[0.78,8.19],ticks:[2.5,5.0,7.5],fmt:".1f"},
  {col:1,row:3,label:"Mw",hmc:mwHMC,rwmh:mwRWMH,ref:mwTrue,domain:[6.912,7.30],ticks:[7.0,7.2],fmt:".1f",shift:-14},
  {col:1,row:4,label:"Stress\ndrop\n[MPa]",hmc:stressHMC,rwmh:stressRWMH,ref:stressTrue,domain:[0.18,21.2],ticks:[10,20],fmt:"d"},
  {col:1,row:5,label:"VR\n[%]",hmc:vrHMC,rwmh:vrRWMH,ref:vrTrue,domain:[-10.6,92.4],ticks:[0,50],fmt:"d"}
];

// ---------------- layout ----------------
const colLayout = [
  {left: 0, width: 950, marginLeft: 165, marginRight: 15, labelDx: -88},
  {left: 1000, width: 960, marginLeft: 166, marginRight: 20, labelDx: -86}
];
const frameTop0 = 84, pitch = 137, frameH = 115, mTop = 6;
const squeezeX = 0.86;

const root = document.getElementById("root");
const minus = s => s.replace("-", "\u2212");

// narrow horizontal (non-rotated) texts about their own anchor
function squeeze(t, sx) {
  let tr = t.getAttribute("transform") || "";
  if (tr.includes("rotate")) return;
  const x = t.getAttribute("x");
  if (x != null && /^-?[\d.]+$/.test(x.trim()) && parseFloat(x) !== 0) {
    tr = `translate(${x},0) ` + tr;
    t.removeAttribute("x");
  }
  t.setAttribute("transform", (tr + ` scale(${sx},1)`).trim());
}

for (const p of panels) {
  const c = colLayout[p.col];
  const bottom = p.row === 5;
  const mBottom = bottom ? 66 : 12;
  const f = d3.format(p.fmt);
  const hmcData = sampleHMC.map((s, i) => ({s, v: p.hmc[i]})).filter(d => d.v != null);
  const rwmhData = sampleRWMH.map((s, i) => ({s, v: p.rwmh[i]})).filter(d => d.v != null);
  const marks = [
    Plot.line(rwmhData, {x: "s", y: "v", stroke: "#d62728", strokeWidth: 1.6, strokeOpacity: 0.9}),
    Plot.line(hmcData, {x: "s", y: "v", stroke: "#1f77b4", strokeWidth: 1.5}),
    Plot.ruleY([p.ref], {stroke: "#222", strokeWidth: 2, strokeDasharray: "7,4", strokeOpacity: 0.85}),
    Plot.frame({stroke: "#3a3a3a", strokeWidth: 1.6}),
    Plot.axisY({ticks: p.ticks, tickSize: 5, tickPadding: 3, tickFormat: d => minus(f(d)), label: null, fontSize: 23, fontWeight: "bold"}),
    Plot.axisX({ticks: xTicks, tickSize: 5, tickPadding: 5, tickFormat: bottom ? (d => String(d)) : (() => ""), label: null, fontSize: 23, fontWeight: "bold"}),
    Plot.text([p.label], {frameAnchor: "left", text: d => d, rotate: -90, dx: c.labelDx + (p.shift || 0), textAnchor: "middle", lineAnchor: "bottom", lineHeight: 1.12, fontSize: 23, fontWeight: "bold", fill: "#111"})
  ];
  if (bottom) {
    marks.push(Plot.text(["sample"], {frameAnchor: "bottom", text: d => d, dy: 46, fontSize: 23, fontWeight: "bold", fill: "#111"}));
  }
  const chart = Plot.plot({
    width: c.width,
    height: mTop + frameH + mBottom,
    marginLeft: c.marginLeft,
    marginRight: c.marginRight,
    marginTop: mTop,
    marginBottom: mBottom,
    style: {fontFamily: "'DejaVu Sans', sans-serif", fontSize: "22px", fontWeight: "bold", color: "#111", background: "transparent", overflow: "visible"},
    x: {domain: [-10, 1010]},
    y: {domain: p.domain},
    marks
  });
  chart.querySelectorAll("text").forEach(t => {
    if (t.querySelector("tspan")) return;
    if ((t.textContent || "").trim() === "") return;
    squeeze(t, squeezeX);
  });
  const wrap = document.createElement("div");
  wrap.className = "panel";
  wrap.style.left = c.left + "px";
  wrap.style.top = (frameTop0 + pitch * p.row - mTop) + "px";
  wrap.appendChild(chart);
  root.appendChild(wrap);
}
</script>
</body>
</html>
